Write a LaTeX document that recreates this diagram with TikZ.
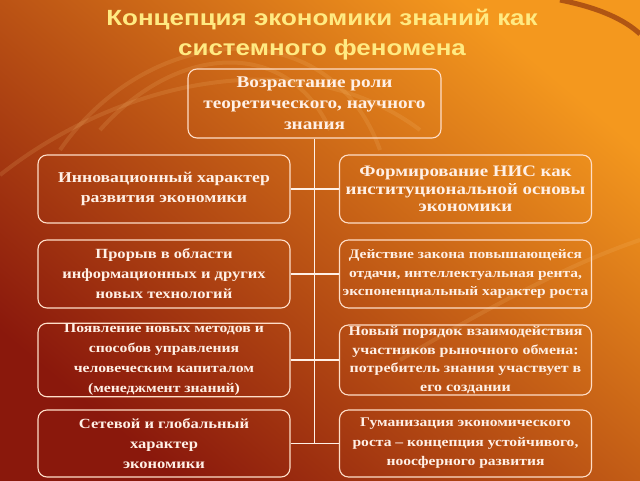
\documentclass[tikz,border=0pt]{standalone}
\usepackage{fontspec}
\setmainfont[FakeStretch=1.18]{Liberation Serif}
\newfontfamily\headfont[FakeStretch=1.18]{Liberation Sans}
\definecolor{darkrust}{RGB}{138,24,12}
\definecolor{burnt}{RGB}{200,72,16}
\definecolor{amber}{RGB}{244,152,30}
\definecolor{boxline}{RGB}{255,222,200}
\definecolor{boxtext}{RGB}{255,240,230}
\definecolor{headyellow}{RGB}{255,234,130}
\newcommand{\fs}[2]{\bfseries\fontsize{#1}{#2}\selectfont}
\tikzset{idea/.style={draw=boxline, line width=1.1pt, rounded corners=9pt,
    minimum width=252pt, minimum height=68pt, align=center,
    text=boxtext, font=\fs{15}{20}, inner sep=1pt}}
\tikzset{link/.style={draw=boxtext, line width=1.6pt}}
\tikzset{swirl/.style={draw=amber!60!white, line width=4pt, opacity=0.16}}

\begin{document}
\begin{tikzpicture}[x=1pt, y=-1pt]
	% background
	\useasboundingbox (0,0) rectangle (640,480);
	\shade[bottom color=darkrust, middle color=burnt, top color=amber, shading angle=-40] (0,0) rectangle (640,480);
	\draw[swirl] (0,175) .. controls (120,80) and (300,40) .. (420,130);
	\draw[swirl] (60,150) .. controls (150,20) and (330,10) .. (380,150);
	\draw[swirl] (100,130) .. controls (180,40) and (290,40) .. (330,130);
	\draw[swirl] (400,360) .. controls (500,300) and (580,260) .. (640,240);
	\draw[darkrust!80!black, line width=5pt, opacity=0.5] (560,0) .. controls (600,8) and (625,20) .. (640,34);

	% title
	\node[text=headyellow, font=\headfont\fs{22}{30}, align=center] (title) at (322,35)
		{Концепция экономики знаний как\\системного феномена};

	% boxes
	\node[idea, font=\fs{16.3}{21}, minimum width=253pt, minimum height=69pt] (top) at (314.5,103.5)
		{Возрастание роли\\теоретического, научного\\знания};

	\node[idea] (l1) at (164,189) {Инновационный характер\\развития экономики};
	\node[idea, font=\fs{16}{17.5}] (r1) at (465.5,189) {Формирование НИС как\\институциональной основы\\экономики};

	\node[idea, font=\fs{14}{20}] (l2) at (164,274) {Прорыв в области\\информационных и других\\новых технологий};
	\node[idea, font=\fs{13.1}{18.5}] (r2) at (465.5,274) {Действие закона повышающейся\\отдачи, интеллектуальная рента,\\экспоненциальный характер роста};

	\node[idea, font=\fs{13.3}{20}, minimum height=70pt] (l3) at (164,360) {Появление новых методов и\\способов управления\\человеческим капиталом\\(менеджмент знаний)};
	\node[idea, font=\fs{13.5}{18.5}, minimum height=70pt] (r3) at (465.5,360) {Новый порядок взаимодействия\\участников рыночного обмена:\\потребитель знания участвует в\\его создании};

	\node[idea, font=\fs{14}{20}, minimum height=67pt] (l4) at (164,443.5) {Сетевой и глобальный\\характер\\экономики};
	\node[idea, font=\fs{13.2}{19.5}, minimum height=67pt] (r4) at (465.5,443.5) {Гуманизация экономического\\роста – концепция устойчивого,\\ноосферного развития};

	% connectors
	\draw[link] (top.south) -- (top.south |- l4.east);
	\draw[link] (l1.east) -- (r1.west);
	\draw[link] (l2.east) -- (r2.west);
	\draw[link] (l3.east) -- (r3.west);
	\draw[link] (l4.east) -- (r4.west);
\end{tikzpicture}
\end{document}
